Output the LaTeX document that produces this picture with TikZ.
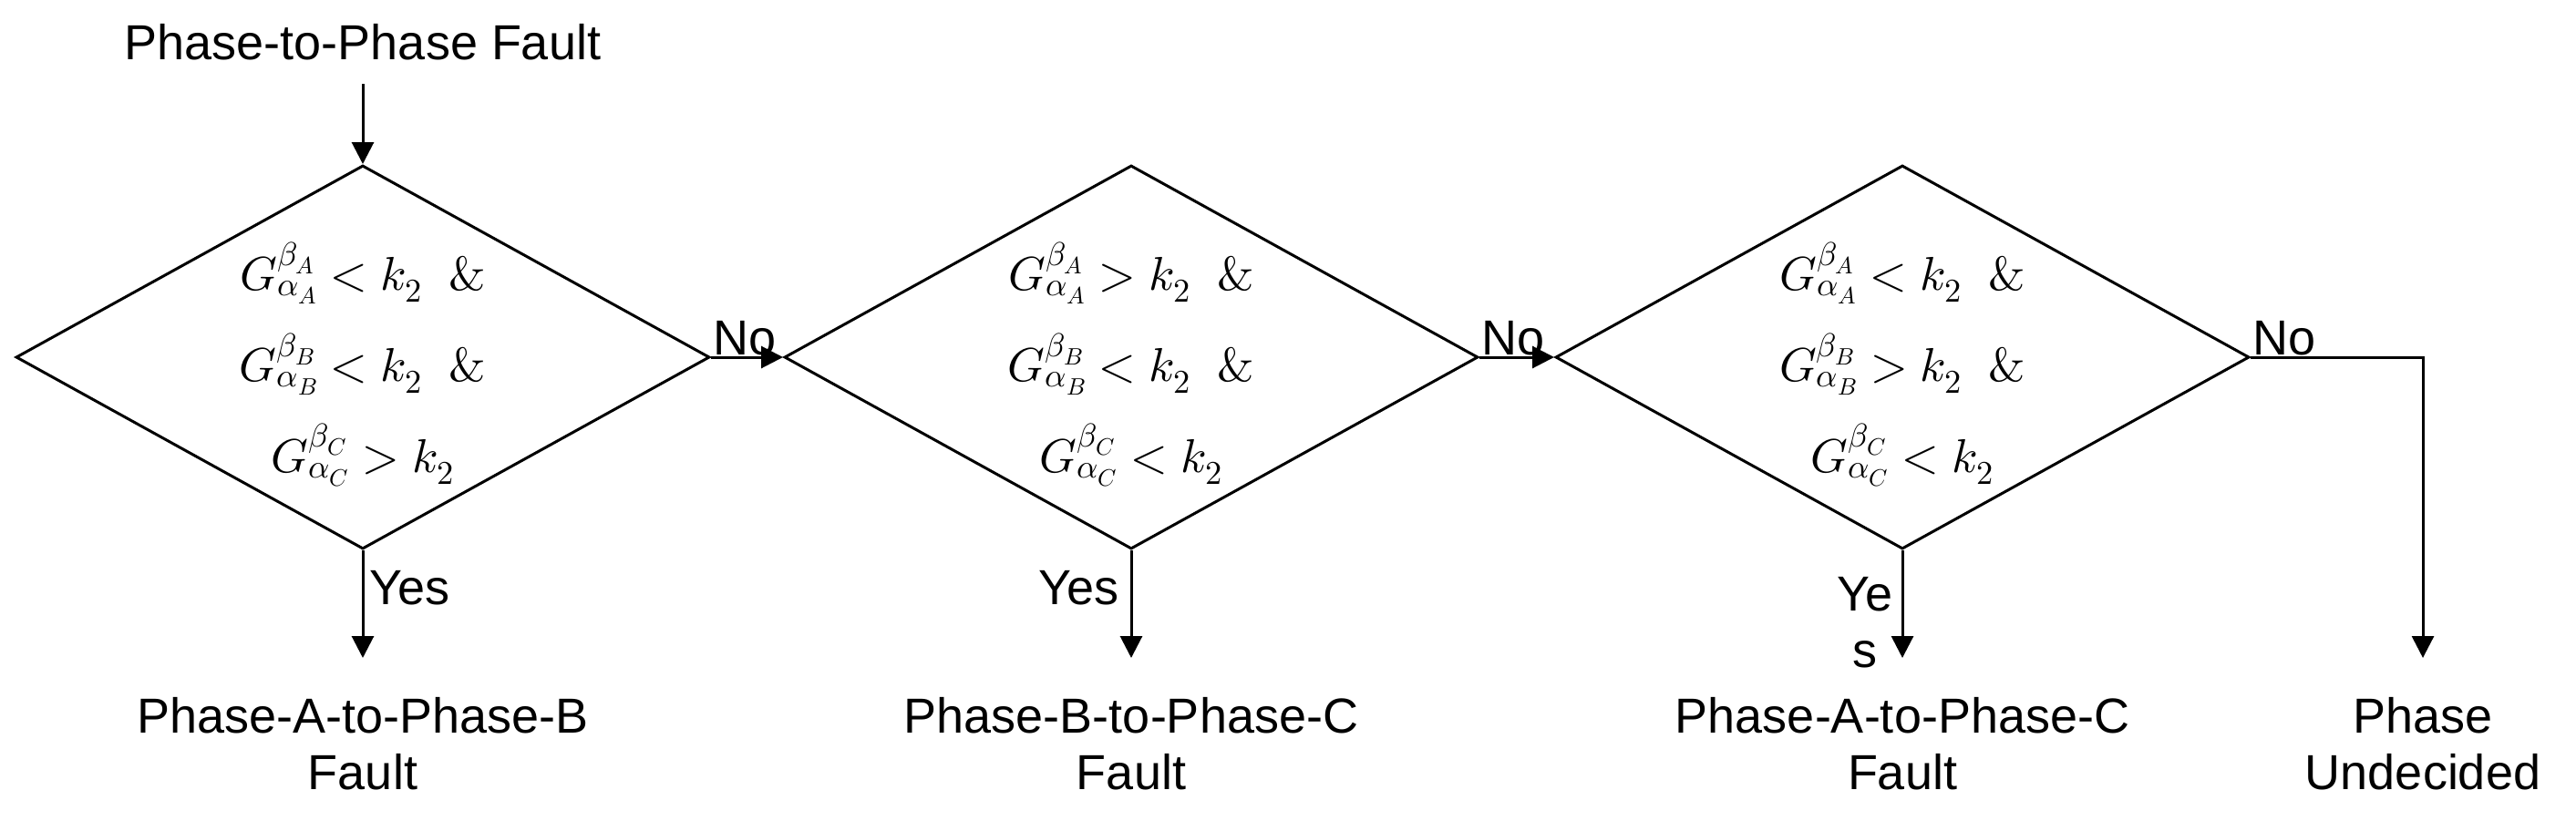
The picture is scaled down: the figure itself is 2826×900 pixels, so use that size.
\documentclass[tikz,border=0pt]{standalone}
\usepackage{fontspec}
\setmainfont{Liberation Sans}
\usepackage{unicode-math}
\setmathfont{Latin Modern Math}
\usetikzlibrary{shapes.geometric,arrows.meta}
\begin{document}
\begin{tikzpicture}[x=1pt,y=-1pt,
  every node/.style={font=\fontsize{54}{64}\selectfont},
  dia/.style={draw,line width=3pt,diamond,minimum width=761pt,minimum height=421pt,inner sep=0pt},
  arr/.style={line width=3pt,-{Triangle[length=24pt,width=24pt]}},
  math/.style={align=center,font=\fontsize{52}{100}\selectfont},
  lbl/.style={align=center,font=\fontsize{54}{62}\selectfont}]
\useasboundingbox (0,0) rectangle (2826,900);
\node[dia] (d1) at (398,392) {};
\node[dia] (d2) at (1241,392) {};
\node[dia] (d3) at (2087,392) {};
\node[math] (m1) at (398,400) {$G_{\alpha_A}^{\beta_A}<k_2\;\;\&$\\$G_{\alpha_B}^{\beta_B}<k_2\;\;\&$\\$G_{\alpha_C}^{\beta_C}>k_2$};
\node[math] (m2) at (1241,400) {$G_{\alpha_A}^{\beta_A}>k_2\;\;\&$\\$G_{\alpha_B}^{\beta_B}<k_2\;\;\&$\\$G_{\alpha_C}^{\beta_C}<k_2$};
\node[math] (m3) at (2087,400) {$G_{\alpha_A}^{\beta_A}<k_2\;\;\&$\\$G_{\alpha_B}^{\beta_B}>k_2\;\;\&$\\$G_{\alpha_C}^{\beta_C}<k_2$};
\node (title) at (398,46) {Phase-to-Phase Fault};
\coordinate (t0) at (398,92);
\draw[arr] (t0) -- (d1.north);
\node[lbl] (o1) at (398,816) {Phase-A-to-Phase-B\\Fault};
\node[lbl] (o2) at (1241,816) {Phase-B-to-Phase-C\\Fault};
\node[lbl] (o3) at (2087,816) {Phase-A-to-Phase-C\\Fault};
\node[lbl] (o4) at (2658,816) {Phase\\Undecided};
\coordinate (e1) at (398,722);
\coordinate (e2) at (1241,722);
\coordinate (e3) at (2087,722);
\coordinate (e4) at (2658,722);
\coordinate (c4) at (2658,392);
\draw[arr] (d1.south) -- node[right,pos=0.35,inner sep=6pt]{Yes} (e1);
\draw[arr] (d2.south) -- node[left,pos=0.35,inner sep=12pt]{Yes} (e2);
\draw[arr] (d3.south) -- (e3);
\node[lbl,anchor=east] (ye) at (2080,683) {Ye\\s};
\draw[arr] (d1.east) -- (d2.west);
\draw[arr] (d2.east) -- (d3.west);
\draw[arr] (d3.east) -- (c4) -- (e4);
\node[anchor=south west,inner sep=2pt] (n1) at (d1.east) {No};
\node[anchor=south west,inner sep=2pt] (n2) at (d2.east) {No};
\node[anchor=south west,inner sep=2pt] (n3) at (d3.east) {No};
\end{tikzpicture}
\end{document}
